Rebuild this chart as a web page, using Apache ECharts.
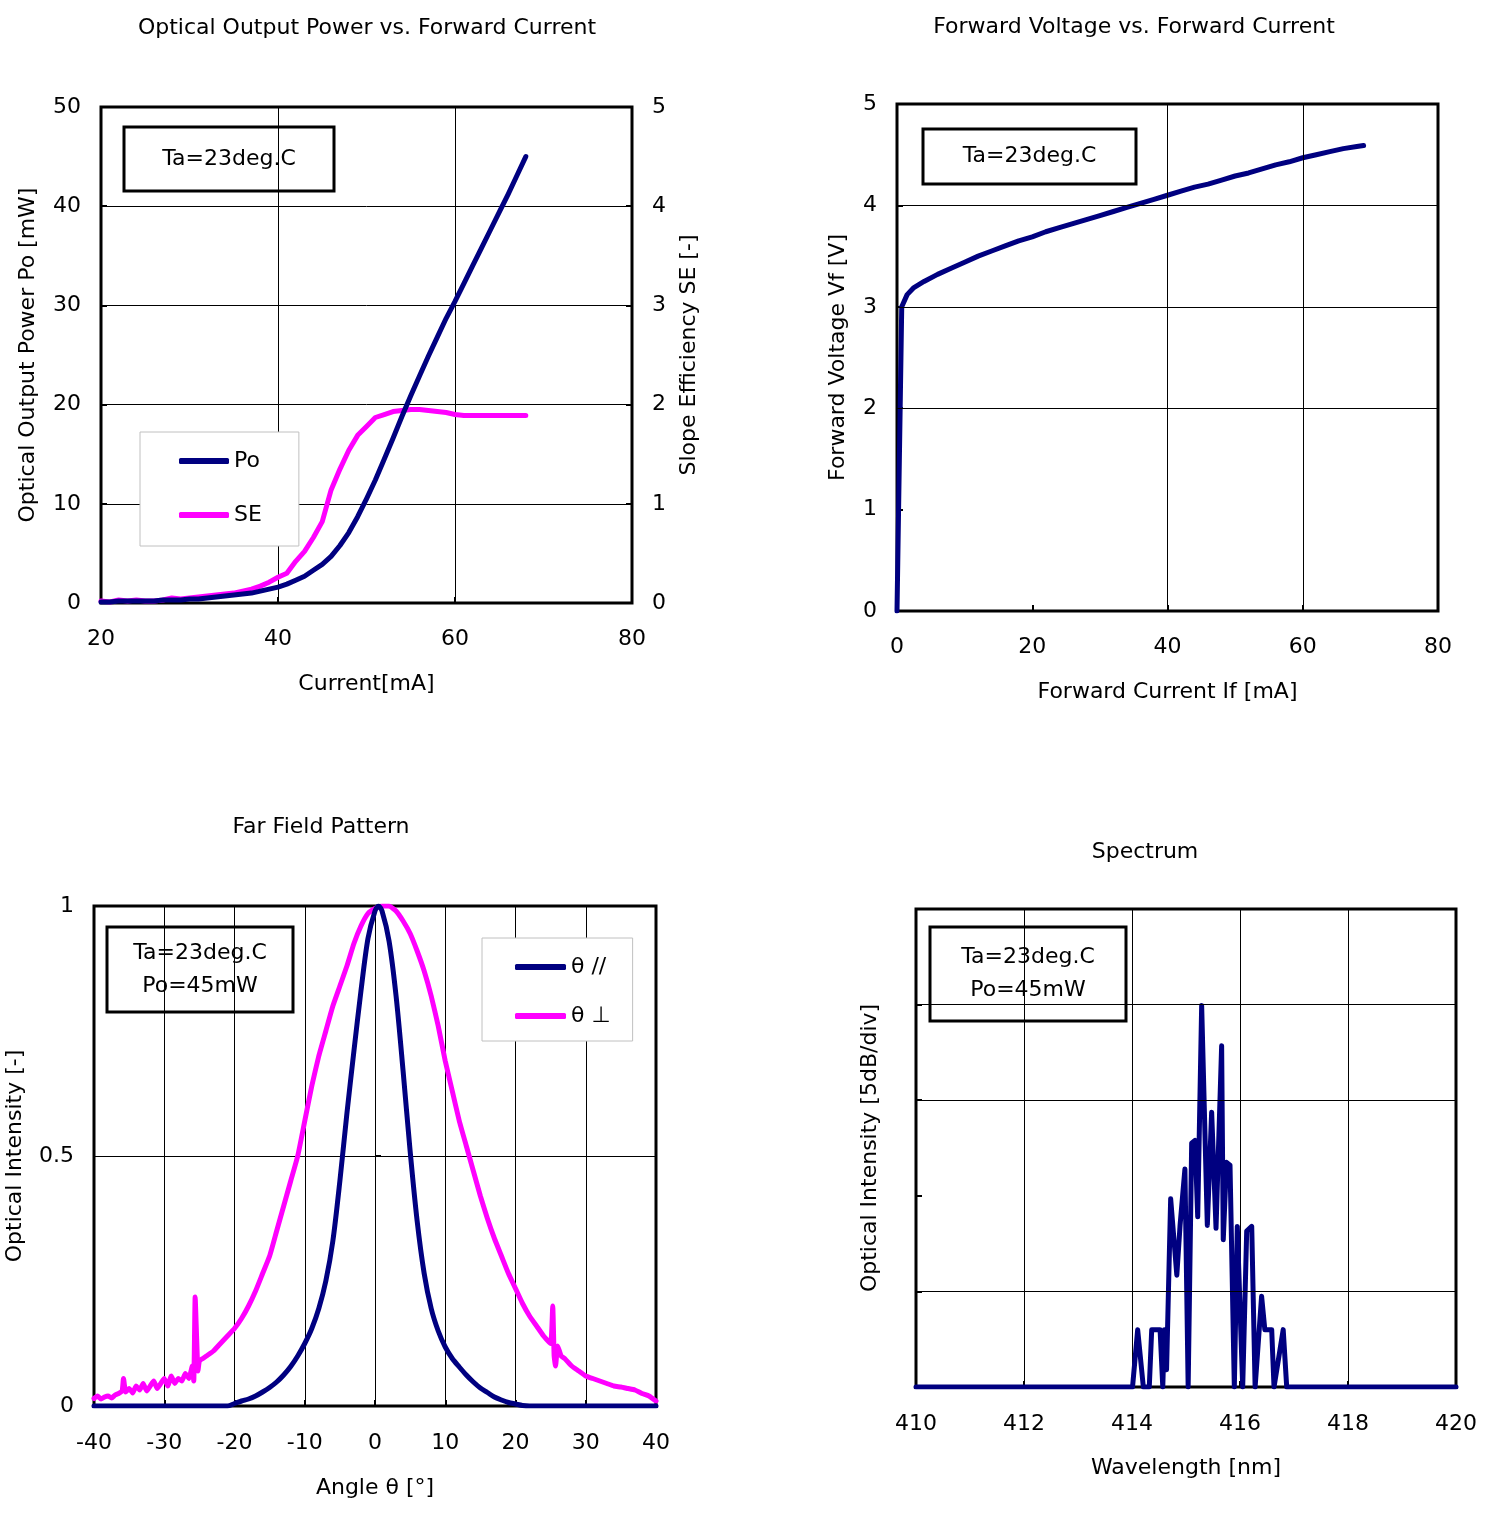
<!DOCTYPE html>
<html><head><meta charset="utf-8">
<script src="https://cdn.jsdelivr.net/npm/echarts@6/dist/echarts.min.js"></script>
<style>html,body{margin:0;padding:0;background:#fff}#c{width:1495px;height:1519px}</style>
</head><body><div id="c"></div>
<script>
// ---------- Data ----------
// Optical Output Power / Slope Efficiency vs. Current
const poCurrent = [20,21,22,23,24,25,26,27,28,29,30,31,32,33,34,35,36,37,38,39,40,41,42,43,44,45,46,47,48,49,50,51,52,53,54,55,56,57,58,59,60,61,62,63,64,65,66,67,68];
const poValues = [0.1,0.1,0.2,0.2,0.2,0.2,0.2,0.3,0.3,0.3,0.4,0.4,0.5,0.6,0.7,0.8,0.9,1.0,1.2,1.4,1.6,1.9,2.3,2.7,3.3,3.9,4.7,5.8,7.1,8.7,10.5,12.4,14.5,16.6,18.8,20.9,22.9,24.9,26.8,28.7,30.4,32.2,34.0,35.8,37.6,39.4,41.2,43.1,45.0];
const seValues = [0.02,0.01,0.03,0.02,0.03,0.02,0.02,0.03,0.05,0.04,0.05,0.06,0.07,0.08,0.09,0.10,0.12,0.14,0.17,0.21,0.26,0.30,0.42,0.52,0.66,0.82,1.14,1.35,1.54,1.69,1.78,1.87,1.90,1.93,1.94,1.95,1.95,1.94,1.93,1.92,1.90,1.89,1.89,1.89,1.89,1.89,1.89,1.89,1.89];

// Forward Voltage vs. Forward Current
const vfCurrent = [0,0.7,1.5,2.5,4,6,8,10,12,14,16,18,20,22,24,26,28,30,32,34,36,38,40,42,44,46,48,50,52,54,56,58,60,62,64,66,68,69];
const vfValues = [0,3.0,3.12,3.19,3.25,3.32,3.38,3.44,3.5,3.55,3.6,3.65,3.69,3.74,3.78,3.82,3.86,3.9,3.94,3.98,4.02,4.06,4.10,4.14,4.18,4.21,4.25,4.29,4.32,4.36,4.40,4.43,4.47,4.50,4.53,4.56,4.58,4.59];

// Far Field Pattern
const ffpParAngle = [-40,-30,-22,-21,-20,-19,-18,-17,-16,-15,-14,-13,-12,-11,-10,-9,-8,-7,-6,-5,-4,-3,-2,-1,0,0.5,1,2,3,4,5,6,7,8,9,10,11,12,13,14,15,16,17,18,19,20,21,22,30,40];
const ffpParValues = [0,0,0,0,0.005,0.01,0.014,0.02,0.028,0.037,0.048,0.062,0.079,0.1,0.125,0.155,0.195,0.25,0.33,0.45,0.585,0.71,0.83,0.935,0.99,1.0,0.99,0.93,0.82,0.67,0.51,0.37,0.265,0.195,0.15,0.118,0.095,0.078,0.062,0.048,0.036,0.027,0.018,0.012,0.007,0.004,0.001,0,0,0];
const ffpPerpAngle = [-40,-39.5,-39,-38.5,-38,-37.5,-37,-36.5,-36,-35.8,-35.5,-35,-34.5,-34,-33.5,-33,-32.5,-32,-31.5,-31,-30.5,-30,-29.5,-29,-28.5,-28,-27.5,-27,-26.5,-26,-25.8,-25.6,-25.4,-25.2,-25,-24.5,-24,-23,-22,-21,-20,-19,-18,-17,-16,-15,-14,-13,-12,-11,-10,-9,-8,-7,-6,-5,-4,-3,-2,-1,0,1,2,3,4,5,6,7,8,9,10,11,12,13,14,15,16,17,18,19,20,21,22,23,24,25,25.3,25.5,25.7,26,26.5,27,28,29,30,31,32,33,34,35,36,37,38,39,40];
const ffpPerpValues = [0.015,0.02,0.014,0.018,0.02,0.016,0.022,0.025,0.03,0.055,0.028,0.035,0.026,0.04,0.032,0.045,0.03,0.04,0.05,0.035,0.045,0.055,0.04,0.06,0.045,0.055,0.05,0.065,0.055,0.08,0.05,0.218,0.14,0.07,0.09,0.095,0.1,0.11,0.125,0.14,0.155,0.175,0.2,0.23,0.265,0.3,0.35,0.4,0.45,0.5,0.57,0.64,0.7,0.75,0.8,0.84,0.88,0.925,0.96,0.985,0.995,1.0,1.0,0.99,0.97,0.945,0.91,0.87,0.82,0.76,0.69,0.63,0.57,0.52,0.47,0.42,0.375,0.335,0.3,0.265,0.235,0.205,0.18,0.16,0.14,0.125,0.2,0.1,0.08,0.12,0.1,0.095,0.08,0.07,0.06,0.055,0.05,0.045,0.04,0.038,0.035,0.032,0.025,0.02,0.01];

// Spectrum (levels in 5dB divisions above floor)
const specWavelength = [410,414.01,414.105,414.21,414.32,414.365,414.52,414.57,414.6,414.64,414.716,414.83,414.89,414.98,415.04,415.105,415.167,415.217,415.29,415.395,415.475,415.556,415.66,415.69,415.75,415.815,415.895,415.95,416.05,416.124,416.217,416.28,416.4,416.46,416.587,416.63,416.8,416.865,420];
const specLevel = [0,0,0.6,0,0,0.6,0.6,0,0.6,0.18,1.97,1.17,1.69,2.28,0,2.55,2.58,1.78,3.99,1.69,2.875,1.66,3.57,1.54,2.35,2.32,0,1.68,0,1.63,1.68,0,0.95,0.6,0.6,0,0.6,0,0];

// ---------- Helpers ----------
const FONT = 'DejaVu Sans, Liberation Sans, Arial, sans-serif';
const FS = 22;
const NAVY = '#000080';
const MAGENTA = '#FF00FF';
const pairs = (xs, ys) => xs.map((x, i) => [x, ys[i]]);
const txt = {color: '#000', fontFamily: FONT, fontSize: FS};
const lineStyleOf = (c) => ({color: c, width: 5, cap: 'round', join: 'round'});

function axis(o) {
  return Object.assign({
    type: 'value',
    axisLine: {show: false},
    axisTick: {show: true, inside: true, length: 6, lineStyle: {color: '#000', width: 2}},
    axisLabel: Object.assign({margin: 20}, txt),
    splitLine: {show: false, lineStyle: {color: '#000', width: 1}},
    nameLocation: 'middle',
    nameTextStyle: txt
  }, o);
}

function box(x, y, w, h, lines) {
  return {
    type: 'group', x: x, y: y, z: 10,
    children: [
      {type: 'rect', shape: {x: 0, y: 0, width: w, height: h}, style: {fill: '#fff', stroke: '#000', lineWidth: 3}},
      {type: 'text', x: w / 2, y: h / 2, style: {text: lines.join('\n'), align: 'center', verticalAlign: 'middle', fill: '#000', font: FS + 'px ' + FONT, lineHeight: 33}}
    ]
  };
}

const gridBase = {show: true, borderColor: '#000', borderWidth: 3, backgroundColor: 'transparent', containLabel: false};
const titleStyle = Object.assign({fontWeight: 'normal'}, txt);
const splitOn = {show: true, lineStyle: {color: '#000', width: 1}};

const option = {
  animation: false,
  backgroundColor: '#fff',
  title: [
    {text: 'Optical Output Power vs. Forward Current', left: 367, top: 17, textAlign: 'center', padding: 0, textStyle: titleStyle},
    {text: 'Forward Voltage vs. Forward Current', left: 1134, top: 16, textAlign: 'center', padding: 0, textStyle: titleStyle},
    {text: 'Far Field Pattern', left: 321, top: 816, textAlign: 'center', padding: 0, textStyle: titleStyle},
    {text: 'Spectrum', left: 1145, top: 841, textAlign: 'center', padding: 0, textStyle: titleStyle}
  ],
  grid: [
    Object.assign({left: 101, top: 107, width: 531, height: 496}, gridBase),
    Object.assign({left: 897, top: 104, width: 541, height: 507}, gridBase),
    Object.assign({left: 94, top: 906, width: 562, height: 500}, gridBase),
    Object.assign({left: 916, top: 909, width: 540, height: 478}, gridBase)
  ],
  xAxis: [
    axis({gridIndex: 0, min: 20, max: 80, interval: 20, name: 'Current[mA]', nameGap: 70, axisLabel: Object.assign({margin: 25}, txt), splitLine: splitOn}),
    axis({gridIndex: 1, min: 0, max: 80, interval: 20, name: 'Forward Current If [mA]', nameGap: 70, axisLabel: Object.assign({margin: 25}, txt)}),
    axis({gridIndex: 2, min: -40, max: 40, interval: 10, name: 'Angle θ [°]', nameGap: 71, axisLabel: Object.assign({margin: 26}, txt), splitLine: splitOn}),
    axis({gridIndex: 3, min: 410, max: 420, interval: 2, name: 'Wavelength [nm]', nameGap: 70, axisLabel: Object.assign({margin: 26}, txt), splitLine: splitOn})
  ],
  yAxis: [
    axis({gridIndex: 0, min: 0, max: 50, interval: 10, name: 'Optical Output Power Po [mW]', nameGap: 62, splitLine: splitOn}),
    axis({gridIndex: 0, position: 'right', min: 0, max: 5, interval: 1, name: 'Slope Efficiency SE [-]', nameGap: 46}),
    axis({gridIndex: 1, min: 0, max: 5, interval: 1, name: 'Forward Voltage Vf [V]', nameGap: 48}),
    axis({gridIndex: 2, min: 0, max: 1, interval: 0.5, name: 'Optical Intensity [-]', nameGap: 68, splitLine: splitOn}),
    axis({gridIndex: 3, min: 0, max: 5, interval: 1, name: 'Optical Intensity [5dB/div]', nameGap: 35, axisLabel: {show: false}})
  ],
  legend: [
    {data: ['Po', 'SE'], orient: 'vertical', left: 140, top: 432, itemGap: 32, itemWidth: 50, itemHeight: 6, icon: 'roundRect',
     padding: [18, 37, 20, 39], borderColor: '#c0c0c0', borderWidth: 1, backgroundColor: '#fff', textStyle: txt, selectedMode: false},
    {data: ['θ //', 'θ ⊥'], orient: 'vertical', left: 482, top: 938, itemGap: 27, itemWidth: 51, itemHeight: 6, icon: 'roundRect',
     padding: [18, 22, 14, 33], borderColor: '#c0c0c0', borderWidth: 1, backgroundColor: '#fff', textStyle: txt, selectedMode: false}
  ],
  graphic: [
    box(124, 127, 210, 64, ['Ta=23deg.C']),
    box(923, 129, 213, 55, ['Ta=23deg.C']),
    box(107, 927, 186, 85, ['Ta=23deg.C', 'Po=45mW']),
    box(930, 927, 196, 94, ['Ta=23deg.C', 'Po=45mW'])
  ],
  series: [
    {name: 'Po', type: 'line', xAxisIndex: 0, yAxisIndex: 0, data: pairs(poCurrent, poValues), symbol: 'none', lineStyle: lineStyleOf(NAVY), itemStyle: {color: NAVY}, z: 3},
    {name: 'SE', type: 'line', xAxisIndex: 0, yAxisIndex: 1, data: pairs(poCurrent, seValues), symbol: 'none', lineStyle: lineStyleOf(MAGENTA), itemStyle: {color: MAGENTA}, z: 2},
    {type: 'line', xAxisIndex: 1, yAxisIndex: 2, data: [], z: 1, silent: true,
     markLine: {silent: true, symbol: ['none', 'none'], label: {show: false}, lineStyle: {color: '#000', width: 1, type: 'solid'},
       data: [{xAxis: 40}, {xAxis: 60}, {yAxis: 2}, {yAxis: 3}, {yAxis: 4}]}},
    {name: 'Vf', type: 'line', xAxisIndex: 1, yAxisIndex: 2, data: pairs(vfCurrent, vfValues), symbol: 'none', lineStyle: lineStyleOf(NAVY), itemStyle: {color: NAVY}, z: 3},
    {name: 'θ ⊥', type: 'line', xAxisIndex: 2, yAxisIndex: 3, data: pairs(ffpPerpAngle, ffpPerpValues), symbol: 'none', smooth: 0.15, lineStyle: lineStyleOf(MAGENTA), itemStyle: {color: MAGENTA}, z: 2},
    {name: 'θ //', type: 'line', xAxisIndex: 2, yAxisIndex: 3, data: pairs(ffpParAngle, ffpParValues), symbol: 'none', smooth: 0.3, lineStyle: lineStyleOf(NAVY), itemStyle: {color: NAVY}, z: 3},
    {type: 'line', xAxisIndex: 3, yAxisIndex: 4, data: [], z: 1, silent: true,
     markLine: {silent: true, symbol: ['none', 'none'], label: {show: false}, lineStyle: {color: '#000', width: 1, type: 'solid'},
       data: [{yAxis: 1}, {yAxis: 3}, {yAxis: 4}]}},
    {name: 'Spectrum', type: 'line', xAxisIndex: 3, yAxisIndex: 4, data: pairs(specWavelength, specLevel), symbol: 'none', lineStyle: lineStyleOf(NAVY), itemStyle: {color: NAVY}, z: 3}
  ]
};

const chart = echarts.init(document.getElementById('c'), null, {renderer: 'canvas'});
chart.setOption(option);
</script></body></html>
